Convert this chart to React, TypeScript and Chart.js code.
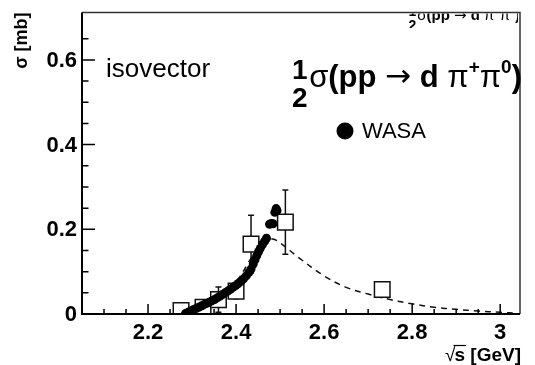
import React, { useEffect, useRef } from "react";
import { Chart, registerables } from "chart.js";
Chart.register(...registerables);

// WASA data (filled circles)
const wasaX = [2.285, 2.291, 2.297, 2.303, 2.309, 2.315, 2.321, 2.327, 2.333, 2.339, 2.345, 2.351, 2.357, 2.363, 2.369, 2.375, 2.381, 2.387, 2.393, 2.399, 2.405, 2.411, 2.417, 2.423, 2.429, 2.434, 2.439, 2.443, 2.447, 2.451, 2.455, 2.460, 2.465, 2.469, 2.476, 2.480, 2.484, 2.488, 2.491, 2.493];
const wasaY = [0.001, 0.004, 0.007, 0.010, 0.013, 0.016, 0.019, 0.022, 0.025, 0.028, 0.031, 0.034, 0.038, 0.042, 0.046, 0.050, 0.054, 0.058, 0.063, 0.067, 0.072, 0.077, 0.083, 0.090, 0.098, 0.106, 0.118, 0.128, 0.138, 0.147, 0.155, 0.164, 0.172, 0.179, 0.212, 0.214, 0.213, 0.240, 0.249, 0.244];

// older data (open squares) with errors
const sqX = [2.275, 2.325, 2.36, 2.40, 2.434, 2.512, 2.732];
const sqY = [0.008, 0.016, 0.034, 0.054, 0.165, 0.217, 0.058];
const sqErr = [0.006, 0.012, 0.03, 0.018, 0.068, 0.076, 0.012];

// dashed model curve
const curveX = [2.275, 2.29, 2.31, 2.33, 2.35, 2.37, 2.39, 2.41, 2.43, 2.45, 2.47, 2.483, 2.50, 2.54, 2.60, 2.65, 2.70, 2.75, 2.80, 2.85, 2.90, 2.95, 3.00, 3.04];
const curveY = [0.0, 0.004, 0.012, 0.022, 0.034, 0.047, 0.064, 0.09, 0.125, 0.155, 0.172, 0.177, 0.168, 0.135, 0.09, 0.063, 0.047, 0.034, 0.024, 0.016, 0.011, 0.007, 0.004, 0.002];

// axes
const xMin = 2.05, xMax = 3.045, yMin = 0, yMax = 0.712;
const xMajor = [2.2, 2.4, 2.6, 2.8, 3.0];
const xLabels = ["2.2", "2.4", "2.6", "2.8", "3"];
const xMinor = [2.1, 2.15, 2.25, 2.3, 2.35, 2.45, 2.5, 2.55, 2.65, 2.7, 2.75, 2.85, 2.9, 2.95];
const yMajor = [0, 0.2, 0.4, 0.6];
const yLabels = ["0", "0.2", "0.4", "0.6"];
const yMinor = [0.05, 0.1, 0.15, 0.25, 0.3, 0.35, 0.45, 0.5, 0.55, 0.65];

const FAM = "'Liberation Sans', Arial, 'DejaVu Sans', sans-serif";
const SYM = "'DejaVu Sans', sans-serif";

type Run = { text?: string; font?: string; dy?: number; frac?: [string, string]; fracFont?: string; fdy?: [number, number] };

function titleRuns(S: number): Run[] {
  const b = `bold ${S}px ${FAM}`;
  const r = `${S}px ${FAM}`;
  const sup = `bold ${Math.round(S * 0.6)}px ${FAM}`;
  return [
    { frac: ["1", "2"], fracFont: `bold ${Math.round(S * 0.9)}px ${FAM}`, fdy: [-0.25 * S, 0.64 * S] },
    { text: " ", font: `${Math.round(S * 0.2)}px ${FAM}` },
    { text: "σ", font: r },
    { text: "(pp ", font: b },
    { text: "→", font: `${S}px ${SYM}`, dy: -0.02 * S },
    { text: " d ", font: b },
    { text: "π", font: r },
    { text: "+", font: sup, dy: -0.45 * S },
    { text: "π", font: r },
    { text: "0", font: sup, dy: -0.45 * S },
    { text: ")", font: b },
  ];
}

function drawRuns(ctx: CanvasRenderingContext2D, runs: Run[], xRight: number, base: number) {
  const widths: number[] = [];
  let total = 0;
  for (const run of runs) {
    let w = 0;
    if (run.frac) {
      ctx.font = run.fracFont!;
      w = Math.max(ctx.measureText(run.frac[0]).width, ctx.measureText(run.frac[1]).width);
    } else {
      ctx.font = run.font!;
      w = ctx.measureText(run.text!).width;
    }
    widths.push(w);
    total += w;
  }
  let x = xRight - total;
  ctx.textBaseline = "alphabetic";
  runs.forEach((run, i) => {
    if (run.frac) {
      ctx.font = run.fracFont!;
      ctx.textAlign = "center";
      ctx.fillText(run.frac[0], x + widths[i] / 2, base + run.fdy![0]);
      ctx.fillText(run.frac[1], x + widths[i] / 2, base + run.fdy![1]);
    } else {
      ctx.font = run.font!;
      ctx.textAlign = "left";
      ctx.fillText(run.text!, x, base + (run.dy || 0));
    }
    x += widths[i];
  });
}

const errorBarPlugin = {
  id: "errbars",
  beforeDatasetsDraw(chart: any) {
    const ctx = chart.ctx as CanvasRenderingContext2D;
    const xs = chart.scales.x, ys = chart.scales.y;
    ctx.save();
    ctx.strokeStyle = "#111";
    ctx.lineWidth = 1.5;
    sqX.forEach((xv, i) => {
      const px = xs.getPixelForValue(xv);
      const y1 = ys.getPixelForValue(Math.max(0, sqY[i] - sqErr[i]));
      const y2 = ys.getPixelForValue(sqY[i] + sqErr[i]);
      ctx.beginPath();
      ctx.moveTo(px, y1); ctx.lineTo(px, y2);
      ctx.moveTo(px - 3, y1); ctx.lineTo(px + 3, y1);
      ctx.moveTo(px - 3, y2); ctx.lineTo(px + 3, y2);
      ctx.stroke();
    });
    ctx.restore();
  },
};

const framePlugin = {
  id: "frame",
  afterDraw(chart: any) {
    const ctx = chart.ctx as CanvasRenderingContext2D;
    const { left, right, top, bottom } = chart.chartArea;
    const xs = chart.scales.x, ys = chart.scales.y;
    ctx.save();
    // frame
    ctx.strokeStyle = "#333";
    ctx.lineWidth = 1.5;
    ctx.beginPath();
    ctx.moveTo(left, top); ctx.lineTo(right, top); ctx.lineTo(right, bottom);
    ctx.stroke();
    ctx.strokeStyle = "#000";
    ctx.lineWidth = 2;
    ctx.beginPath();
    ctx.moveTo(left, top); ctx.lineTo(left, bottom); ctx.lineTo(right, bottom);
    ctx.stroke();
    // ticks
    ctx.lineWidth = 1.5;
    ctx.beginPath();
    xMajor.forEach((v) => { const p = xs.getPixelForValue(v); ctx.moveTo(p, bottom); ctx.lineTo(p, bottom - 10); });
    xMinor.forEach((v) => { const p = xs.getPixelForValue(v); ctx.moveTo(p, bottom); ctx.lineTo(p, bottom - 5); });
    yMajor.forEach((v) => { const p = ys.getPixelForValue(v); ctx.moveTo(left, p); ctx.lineTo(left + 13, p); });
    yMinor.forEach((v) => { const p = ys.getPixelForValue(v); ctx.moveTo(left, p); ctx.lineTo(left + 6.5, p); });
    ctx.stroke();
    // tick labels
    ctx.fillStyle = "#000";
    ctx.font = `bold 22px ${FAM}`;
    ctx.textAlign = "center";
    ctx.textBaseline = "alphabetic";
    xMajor.forEach((v, i) => ctx.fillText(xLabels[i], xs.getPixelForValue(v), 339));
    ctx.textAlign = "right";
    ctx.textBaseline = "middle";
    yMajor.forEach((v, i) => ctx.fillText(yLabels[i], left - 5, ys.getPixelForValue(v) + 1));
    // axis titles
    ctx.save();
    ctx.translate(27, top);
    ctx.rotate(-Math.PI / 2);
    ctx.textAlign = "right";
    ctx.textBaseline = "alphabetic";
    ctx.font = `bold 18px ${FAM}`;
    ctx.fillText("σ [mb]", 0, 0);
    ctx.restore();
    ctx.font = `bold 19px ${FAM}`;
    ctx.textAlign = "right";
    ctx.textBaseline = "alphabetic";
    const xt = "s [GeV]";
    const wx = ctx.measureText(xt).width;
    const ws = ctx.measureText("s").width;
    ctx.fillText(xt, right + 1, 361);
    ctx.font = `19px ${FAM}`;
    ctx.fillText("√", right - wx + 2, 361);
    ctx.lineWidth = 1.2;
    ctx.beginPath();
    ctx.moveTo(right - wx, 345.5);
    ctx.lineTo(right - wx + ws + 2, 345.5);
    ctx.stroke();
    // isovector
    ctx.font = `26px ${FAM}`;
    ctx.textAlign = "left";
    ctx.textBaseline = "alphabetic";
    ctx.fillText("isovector", 106, 77);
    // big title
    drawRuns(ctx, titleRuns(31), 522, 87);
    // small clipped title (lower part hidden)
    ctx.save();
    ctx.beginPath();
    ctx.rect(left + 2, top + 1, right - left - 4, 14.5);
    ctx.clip();
    drawRuns(ctx, titleRuns(15), 520, 20);
    ctx.restore();
    // legend
    ctx.beginPath();
    ctx.arc(345, 131, 8.5, 0, Math.PI * 2);
    ctx.fill();
    ctx.font = `22px ${FAM}`;
    ctx.textAlign = "left";
    ctx.textBaseline = "middle";
    ctx.fillText("WASA", 362, 132);
    ctx.restore();
  },
};

export default function App() {
  const ref = useRef<HTMLCanvasElement>(null);
  useEffect(() => {
    const canvas = ref.current!;
    const chart = new Chart(canvas, {
      type: "scatter",
      data: {
        datasets: [
          {
            type: "line",
            data: curveX.map((x, i) => ({ x, y: curveY[i] })),
            borderColor: "#111",
            borderWidth: 1.5,
            borderDash: [6, 5],
            pointRadius: 0,
            tension: 0.35,
            fill: false,
            order: 3,
          } as any,
          {
            data: sqX.map((x, i) => ({ x, y: sqY[i] })),
            pointStyle: "rect",
            pointRadius: 11,
            pointBackgroundColor: "#fff",
            pointBorderColor: "#111",
            pointBorderWidth: 1.5,
            order: 2,
          },
          {
            data: wasaX.map((x, i) => ({ x, y: wasaY[i] })),
            pointStyle: "circle",
            pointRadius: 4.5,
            pointBackgroundColor: "#000",
            pointBorderColor: "#000",
            pointBorderWidth: 0,
            order: 1,
          },
        ],
      },
      options: {
        animation: false,
        responsive: false,
        layout: { padding: { left: 82, top: 5, right: 15, bottom: 51 } },
        plugins: { legend: { display: false }, tooltip: { enabled: false } },
        scales: {
          x: { type: "linear", min: xMin, max: xMax, display: false },
          y: { type: "linear", min: yMin, max: yMax, display: false },
        },
      },
      plugins: [errorBarPlugin, framePlugin],
    });
    return () => chart.destroy();
  }, []);
  return (
    <div style={{ position: "absolute", left: 0, top: 0, width: 535, height: 365, background: "#fff" }}>
      <canvas ref={ref} width={535} height={365} />
    </div>
  );
}
